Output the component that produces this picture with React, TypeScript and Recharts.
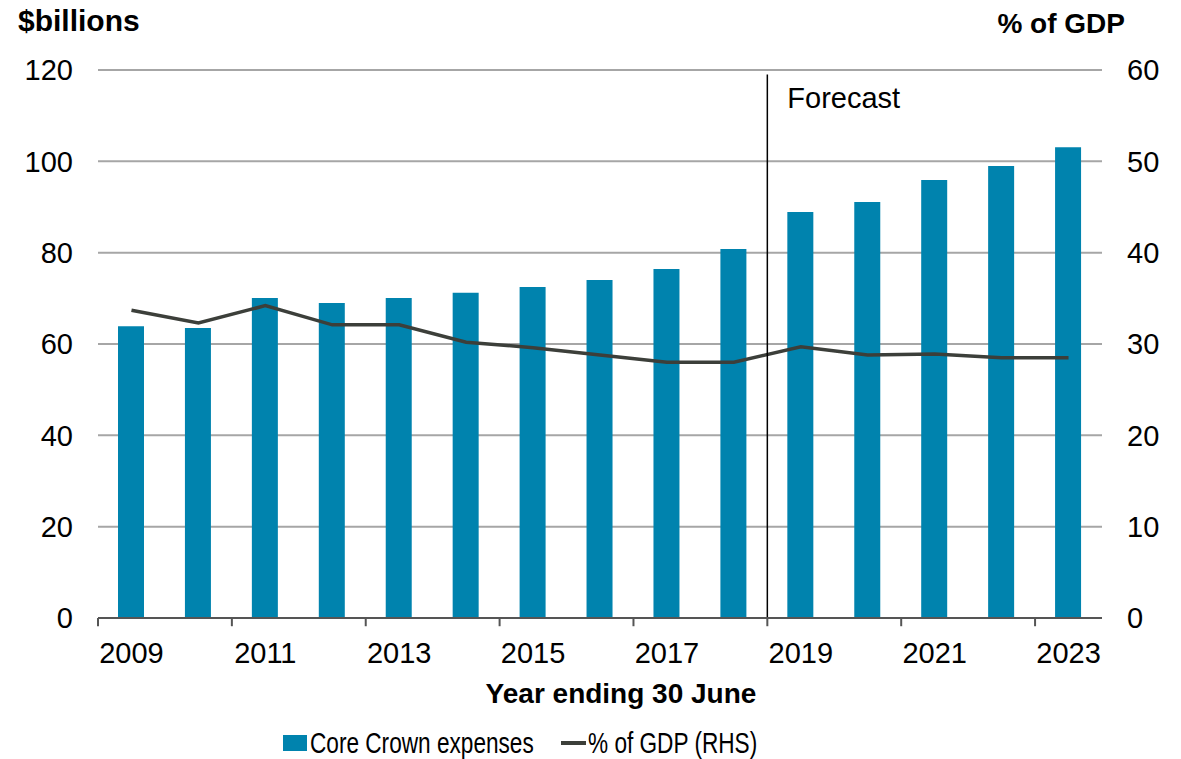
import React from 'react';
import {
  ComposedChart,
  Bar,
  Line,
  XAxis,
  YAxis,
  CartesianGrid,
  ReferenceLine,
} from 'recharts';

// Year ending 30 June
const years = ['2009', '2010', '2011', '2012', '2013', '2014', '2015', '2016', '2017', '2018', '2019', '2020', '2021', '2022', '2023'];
// Core Crown expenses, $billions
const expenses = [63.9, 63.5, 70.1, 69.0, 70.1, 71.2, 72.5, 74.0, 76.4, 80.8, 88.9, 91.1, 95.9, 99.0, 103.1];
// % of GDP (RHS)
const gdpShare = [33.7, 32.3, 34.2, 32.1, 32.1, 30.2, 29.6, 28.8, 28.0, 28.0, 29.7, 28.8, 28.9, 28.5, 28.5];

const leftTicks = [0, 20, 40, 60, 80, 100, 120];
const rightTicks = [0, 10, 20, 30, 40, 50, 60];
// category boundaries that carry a tick mark on the x axis
const boundaryTicks = [0, 2, 4, 6, 8, 10, 12, 14];
const forecastStart = 10;

const FONT = '"Liberation Sans", Arial, sans-serif';
const BAR = '#0083ae';
const LINE = '#3c3f3a';

const data = years.map((year, i) => ({ year, pos: i + 0.5, expenses: expenses[i], gdp: gdpShare[i] }));

const ForecastLabel = (props: any) => {
  const vb = props.viewBox || {};
  return (
    <text x={vb.x + 20} y={vb.y + 33} fontSize={29} fontFamily={FONT} fill="#000">
      Forecast
    </text>
  );
};

export default function App() {
  return (
    <div style={{ position: 'absolute', left: 0, top: 0, width: 1181, height: 759, background: '#fff', fontFamily: FONT }}>
      <ComposedChart width={1181} height={759} data={data} margin={{ top: 70, right: 0, bottom: 0, left: 0 }}>
        <CartesianGrid vertical={false} stroke="#a6a6a6" strokeWidth={2} yAxisId="left" />
        <XAxis
          dataKey="year"
          interval={1}
          height={141}
          tickLine={false}
          tickSize={0}
          tickMargin={24}
          axisLine={{ stroke: '#555', strokeWidth: 2 }}
          tick={{ fontSize: 29, fill: '#000', fontFamily: FONT }}
        />
        <XAxis
          xAxisId="n"
          dataKey="pos"
          type="number"
          domain={[0, years.length]}
          allowDataOverflow
          padding={{ left: 0, right: 0 }}
          hide
        />
        <YAxis
          yAxisId="left"
          width={98}
          domain={[0, 120]}
          ticks={leftTicks}
          axisLine={false}
          tickLine={false}
          tickSize={0}
          tickMargin={25}
          tick={{ fontSize: 29, fill: '#000', fontFamily: FONT }}
        />
        <YAxis
          yAxisId="right"
          orientation="right"
          width={79}
          domain={[0, 60]}
          ticks={rightTicks}
          axisLine={false}
          tickLine={false}
          tickSize={0}
          tickMargin={25}
          tick={{ fontSize: 29, fill: '#000', fontFamily: FONT, textAnchor: 'start' }}
        />
        <Bar yAxisId="left" dataKey="expenses" fill={BAR} barSize={26} isAnimationActive={false} />
        <Line
          yAxisId="right"
          dataKey="gdp"
          type="linear"
          stroke={LINE}
          strokeWidth={3.5}
          dot={false}
          activeDot={false}
          isAnimationActive={false}
        />
        {boundaryTicks.map((k) => (
          <ReferenceLine
            key={k}
            xAxisId="n"
            yAxisId="left"
            segment={[{ x: k, y: 0 }, { x: k, y: -1.8 }]}
            stroke="#555"
            strokeWidth={2}
            ifOverflow="visible"
          />
        ))}
        <ReferenceLine
          xAxisId="n"
          yAxisId="left"
          segment={[{ x: forecastStart, y: 0 }, { x: forecastStart, y: 119 }]}
          stroke="#000"
          strokeWidth={1.5}
          ifOverflow="visible"
          label={<ForecastLabel />}
        />
      </ComposedChart>

      <svg width={1181} height={759} style={{ position: 'absolute', left: 0, top: 0, pointerEvents: 'none' }}>
        <text x={18} y={31} fontSize={30} fontWeight="bold" fontFamily={FONT} fill="#000">$billions</text>
        <text x={1125} y={33} fontSize={28} fontWeight="bold" fontFamily={FONT} fill="#000" textAnchor="end">% of GDP</text>
        <text x={621} y={703} fontSize={28} fontWeight="bold" fontFamily={FONT} fill="#000" textAnchor="middle">Year ending 30 June</text>
        <rect x={283} y={735} width={24} height={16} fill={BAR} />
        <text x={310} y={753} fontSize={29} fontFamily={FONT} fill="#000" transform="translate(310 0) scale(0.78 1) translate(-310 0)">
          Core Crown expenses
        </text>
        <line x1={561} x2={586} y1={743} y2={743} stroke={LINE} strokeWidth={4} />
        <text x={588} y={753} fontSize={29} fontFamily={FONT} fill="#000" transform="translate(588 0) scale(0.78 1) translate(-588 0)">
          % of GDP (RHS)
        </text>
      </svg>
    </div>
  );
}
